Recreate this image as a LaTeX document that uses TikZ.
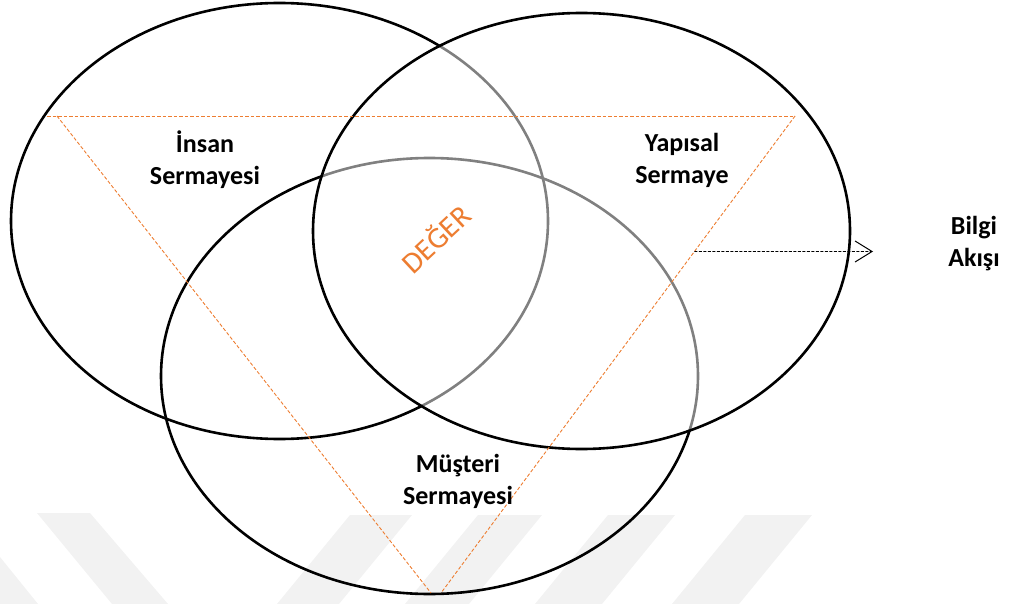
\documentclass[tikz,border=0pt]{standalone}
\usepackage{fontspec}
\setmainfont{Carlito}
\usetikzlibrary{shapes.geometric,arrows.meta,calc}
\definecolor{deger}{HTML}{ED7D31}
\definecolor{mark}{gray}{0.95}
\begin{document}
\begin{tikzpicture}[x=1pt,y=-1pt,
  ring/.style={ellipse, draw=black, line width=2.6pt,
    minimum width=537pt, minimum height=436pt, inner sep=0pt},
  lbl/.style={font=\fontsize{26}{32}\selectfont\bfseries, align=center, inner sep=0pt},
  tri/.style={draw=deger, line width=0.9pt, dash pattern=on 3.5pt off 2pt},
  flow/.style={draw=black, line width=0.9pt, dash pattern=on 3pt off 1.5pt,
    -{Straight Barb[length=17pt,width=21pt,line width=1pt]}},
  wm/.style={fill=mark, draw=none}]
\useasboundingbox (0,0) rectangle (1011,604);

% faint diagonal bands along the lower edge
\fill[wm] (0,557) -- (38,604) -- (0,604) -- cycle;
\fill[wm] (37,513) -- (90,513) -- (168,604) -- (112,604) -- cycle;
\fill[wm] (350,515) -- (412,515) -- (339,604) -- (277,604) -- cycle;
\fill[wm] (478,515) -- (542,515) -- (469,604) -- (405,604) -- cycle;
\fill[wm] (608,515) -- (675,515) -- (602,604) -- (535,604) -- cycle;
\fill[wm] (745,515) -- (812,515) -- (739,604) -- (672,604) -- cycle;

% the three capital circles
\node[ring] (insan) at (279.5,221) {};
\node[ring] (musteri) at (429.5,376) {};
\node[ring, fill=white, fill opacity=0.5] (yapisal) at (581.5,231) {};

% value triangle
\coordinate (t1) at (47,116);
\coordinate (t2) at (795,116);
\coordinate (tl) at (57,116);
\coordinate (bl) at (431,593);
\coordinate (br) at (441,593);
\draw[tri] (t1) -- (t2);
\draw[tri] (tl) -- (bl);
\draw[tri] (t2) -- (br);

\node[text=deger, font=\fontsize{30}{34}\selectfont, rotate=43, inner sep=0pt] (deger) at (435,238) {DEĞER};

% labels
\node[lbl] (hum) at (205,160) {İnsan\\Sermayesi};
\node[lbl] (str) at (682,160) {Yapısal\\Sermaye};
\node[lbl] (cus) at (458,481) {Müşteri\\Sermayesi};
\node[lbl] (inf) at (974,244) {Bilgi\\Akışı};

% information flow
\coordinate (src) at ($(t2)!0.284!(br)$);
\coordinate (tip) at (873,251.5);
\draw[flow] (src) -- (tip);
\end{tikzpicture}
\end{document}
